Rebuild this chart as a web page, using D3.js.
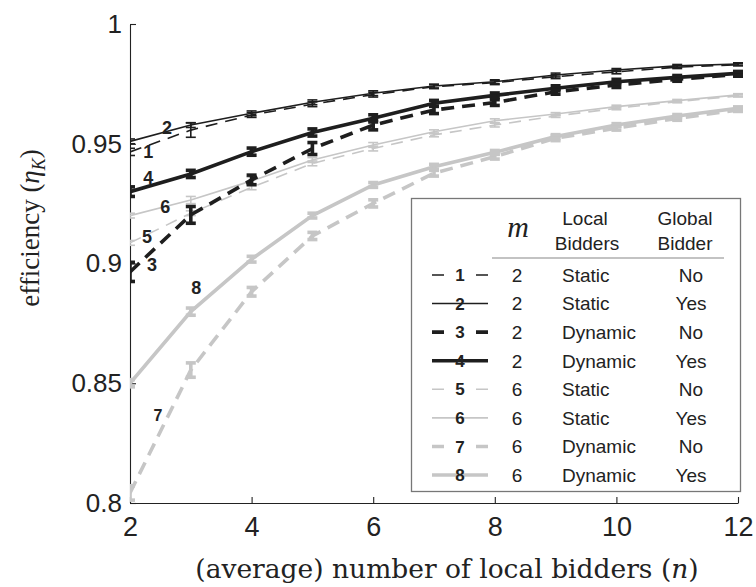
<!DOCTYPE html>
<html>
<head>
<meta charset="utf-8">
<script src="https://cdn.jsdelivr.net/npm/d3@7"></script>
<style>
  body { margin: 0; background: #fff; }
  svg { display: block; }
</style>
</head>
<body>
<svg id="chart" width="756" height="587"></svg>
<script>
const nValues = [2, 3, 4, 5, 6, 7, 8, 9, 10, 11, 12];

// efficiency per series
const s1 = [0.9466, 0.9557, 0.9620, 0.9665, 0.9705, 0.9738, 0.9755, 0.9780, 0.9800, 0.9820, 0.9830];
const s2 = [0.9510, 0.9578, 0.9627, 0.9673, 0.9711, 0.9741, 0.9759, 0.9787, 0.9808, 0.9825, 0.9833];
const s3 = [0.8965, 0.9203, 0.9349, 0.9480, 0.9578, 0.9641, 0.9672, 0.9717, 0.9745, 0.9769, 0.9790];
const s4 = [0.9300, 0.9374, 0.9467, 0.9547, 0.9606, 0.9669, 0.9702, 0.9732, 0.9759, 0.9777, 0.9794];
const s5 = [0.9086, 0.9210, 0.9318, 0.9418, 0.9480, 0.9537, 0.9578, 0.9616, 0.9648, 0.9676, 0.9700];
const s6 = [0.9200, 0.9265, 0.9345, 0.9432, 0.9495, 0.9550, 0.9596, 0.9624, 0.9655, 0.9680, 0.9704];
const s7 = [0.8042, 0.8555, 0.8882, 0.9115, 0.9251, 0.9377, 0.9446, 0.9523, 0.9565, 0.9606, 0.9641];
const s8 = [0.8500, 0.8799, 0.9018, 0.9200, 0.9328, 0.9404, 0.9464, 0.9530, 0.9578, 0.9616, 0.9648];

// error bar half widths
const e1 = [0.0015, 0.003, 0.001, 0.001, 0.001, 0.0008, 0.0008, 0.0008, 0.0008, 0.0006, 0.0005];
const e2 = [0.001, 0.001, 0.001, 0.001, 0.001, 0.0008, 0.0008, 0.0008, 0.0006, 0.0006, 0.0005];
const e3 = [0.004, 0.0035, 0.002, 0.0025, 0.002, 0.0015, 0.0012, 0.001, 0.001, 0.0008, 0.0008];
const e4 = [0.002, 0.0015, 0.0015, 0.0015, 0.0015, 0.0012, 0.001, 0.001, 0.001, 0.0008, 0.0008];
const e5 = [0.001, 0.001, 0.001, 0.001, 0.001, 0.0008, 0.0008, 0.0006, 0.0006, 0.0005, 0.0005];
const e6 = [0.001, 0.0015, 0.0015, 0.001, 0.001, 0.0008, 0.0008, 0.0006, 0.0006, 0.0005, 0.0005];
const e7 = [0.003, 0.003, 0.0018, 0.0015, 0.0015, 0.0012, 0.001, 0.001, 0.0008, 0.0008, 0.0006];
const e8 = [0.0015, 0.0015, 0.0012, 0.001, 0.001, 0.001, 0.0008, 0.0008, 0.0006, 0.0006, 0.0006];

const seriesIds = ['1', '2', '3', '4', '5', '6', '7', '8'];
const mValues = ['2', '2', '2', '2', '6', '6', '6', '6'];
const localBidders = ['Static', 'Static', 'Dynamic', 'Dynamic', 'Static', 'Static', 'Dynamic', 'Dynamic'];
const globalBidder = ['No', 'Yes', 'No', 'Yes', 'No', 'Yes', 'No', 'Yes'];

// where the little number tags sit, in data units [n, efficiency]
const tagAt = [[2.30, 0.9466], [2.61, 0.9566], [2.36, 0.8994], [2.30, 0.9361],
               [2.28, 0.9111], [2.58, 0.9236], [2.46, 0.8367], [3.09, 0.8898]];

const xTicks = [2, 4, 6, 8, 10, 12];
const yTicks = [0.8, 0.85, 0.9, 0.95, 1];
const yTickLabels = ['0.8', '0.85', '0.9', '0.95', '1'];

const values = [s1, s2, s3, s4, s5, s6, s7, s8];
const errors = [e1, e2, e3, e4, e5, e6, e7, e8];

// styling per series: black for m=2, gray for m=6; thin = static, thick = dynamic
const BLACK = '#1e1e1e', GRAY = '#c6c6c6';
const style = i => ({
  color: i < 4 ? BLACK : GRAY,
  width: (i % 4) >= 2 ? 3.6 : 1.6,
  dash: i % 2 === 0 ? ((i % 4) >= 2 ? '13,8' : '12,8') : null
});

const svg = d3.select('#chart');
const pLeft = 130, pRight = 738, pTop = 24, pBottom = 503;

const x = d3.scaleLinear().domain([2, 12]).range([pLeft, pRight]);
const y = d3.scaleLinear().domain([0.8, 1]).range([pBottom, pTop]);

svg.append('defs').append('clipPath').attr('id', 'plot')
  .append('rect').attr('x', pLeft).attr('y', pTop - 2)
  .attr('width', pRight - pLeft + 8).attr('height', pBottom - pTop + 2);

// axes
const yAxis = d3.axisLeft(y).tickValues(yTicks)
  .tickFormat((d, i) => yTickLabels[i]).tickSizeInner(-6).tickSizeOuter(0).tickPadding(8);
const xAxis = d3.axisBottom(x).tickValues(xTicks)
  .tickSizeInner(-6).tickSizeOuter(0).tickPadding(14);

const gy = svg.append('g').attr('transform', `translate(${pLeft},0)`).call(yAxis);
const gx = svg.append('g').attr('transform', `translate(0,${pBottom})`).call(xAxis);
[gx, gy].forEach(g => {
  g.selectAll('path, line').attr('stroke', '#222').attr('stroke-width', 1.1);
  g.selectAll('text').attr('fill', '#222')
    .style('font-family', '"Liberation Sans", Arial, sans-serif').style('font-size', '26px');
});
gx.selectAll('text').style('font-size', '27px');

// series
const plot = svg.append('g').attr('clip-path', 'url(#plot)');
const line = d3.line().x((d, i) => x(nValues[i])).y(d => y(d));
const order = [4, 5, 6, 7, 0, 1, 2, 3];

order.forEach(i => {
  const st = style(i);
  const g = plot.append('g');
  g.append('path')
    .datum(values[i])
    .attr('d', line)
    .attr('fill', 'none')
    .attr('stroke', st.color)
    .attr('stroke-width', st.width)
    .attr('stroke-dasharray', st.dash);

  const bars = g.selectAll('g.err').data(values[i]).enter().append('g')
    .attr('stroke', st.color).attr('stroke-width', st.width);
  const cap = 5;
  bars.append('line')
    .attr('x1', (d, k) => x(nValues[k])).attr('x2', (d, k) => x(nValues[k]))
    .attr('y1', (d, k) => y(d - errors[i][k])).attr('y2', (d, k) => y(d + errors[i][k]));
  bars.append('line')
    .attr('x1', (d, k) => x(nValues[k]) - cap).attr('x2', (d, k) => x(nValues[k]) + cap)
    .attr('y1', (d, k) => y(d - errors[i][k])).attr('y2', (d, k) => y(d - errors[i][k]));
  bars.append('line')
    .attr('x1', (d, k) => x(nValues[k]) - cap).attr('x2', (d, k) => x(nValues[k]) + cap)
    .attr('y1', (d, k) => y(d + errors[i][k])).attr('y2', (d, k) => y(d + errors[i][k]));
});

// number tags next to the curves
svg.append('g').selectAll('text').data(tagAt).enter().append('text')
  .attr('x', d => x(d[0])).attr('y', d => y(d[1]))
  .attr('text-anchor', 'middle').attr('dy', '0.36em')
  .attr('fill', '#222')
  .style('font-family', '"Liberation Sans", Arial, sans-serif')
  .style('font-weight', 'bold')
  .style('font-size', (d, i) => i === 6 ? '16px' : '18px')
  .text((d, i) => seriesIds[i]);

// axis titles
svg.append('text')
  .attr('x', 447).attr('y', 578).attr('text-anchor', 'middle')
  .style('font-family', '"DejaVu Serif", "Liberation Serif", serif')
  .style('font-size', '26.5px').attr('fill', '#222')
  .call(t => {
    t.append('tspan').text('(average) number of local bidders (');
    t.append('tspan').style('font-style', 'italic').text('n');
    t.append('tspan').text(')');
  });

svg.append('text')
  .attr('transform', 'translate(39,228) rotate(-90)')
  .attr('text-anchor', 'middle')
  .style('font-family', '"Liberation Serif", "Times New Roman", serif')
  .style('font-size', '27px').attr('fill', '#222')
  .call(t => {
    t.append('tspan').text('efficiency (');
    t.append('tspan').style('font-style', 'italic').text('η');
    t.append('tspan').style('font-style', 'italic').style('font-size', '18px').attr('dy', 6).text('K');
    t.append('tspan').attr('dy', -6).text(')');
  });

// legend table
const lg = svg.append('g');
lg.append('rect')
  .attr('x', 411.5).attr('y', 198.5).attr('width', 329).attr('height', 293)
  .attr('fill', '#fff').attr('stroke', '#777').attr('stroke-width', 1.3);

const sans = '"Liberation Sans", Arial, sans-serif';
const hdr = (txt, cx, by) => lg.append('text').attr('x', cx).attr('y', by)
  .attr('text-anchor', 'middle').attr('fill', '#222')
  .style('font-family', sans).style('font-size', '19px').text(txt);

lg.append('text').attr('x', 518).attr('y', 237).attr('text-anchor', 'middle')
  .attr('fill', '#222')
  .style('font-family', '"Liberation Serif", serif').style('font-style', 'italic')
  .style('font-size', '30px').text('m');
hdr('Local', 585, 225);
hdr('Bidders', 587, 250);
hdr('Global', 685, 225);
hdr('Bidder', 685, 250);

lg.append('line').attr('x1', 492).attr('x2', 724).attr('y1', 258).attr('y2', 258)
  .attr('stroke', '#888').attr('stroke-width', 1.2);

const rowY = d3.scaleLinear().domain([0, 7]).range([275, 475]);
seriesIds.forEach((id, i) => {
  const st = style(i);
  const ry = rowY(i);
  lg.append('line')
    .attr('x1', 432).attr('x2', 488).attr('y1', ry).attr('y2', ry)
    .attr('stroke', st.color).attr('stroke-width', st.width)
    .attr('stroke-dasharray', st.dash ? '12,32,12' : null);
  lg.append('text').attr('x', 460).attr('y', ry).attr('dy', '0.36em')
    .attr('text-anchor', 'middle').attr('fill', '#222')
    .style('font-family', sans).style('font-weight', 'bold').style('font-size', '17px')
    .text(id);
  const cell = (txt, cx, anchor) => lg.append('text').attr('x', cx).attr('y', ry).attr('dy', '0.36em')
    .attr('text-anchor', anchor).attr('fill', '#222')
    .style('font-family', sans).style('font-size', '19px').text(txt);
  cell(mValues[i], 517, 'middle');
  cell(localBidders[i], 562, 'start');
  cell(globalBidder[i], 691, 'middle');
});
</script>
</body>
</html>
